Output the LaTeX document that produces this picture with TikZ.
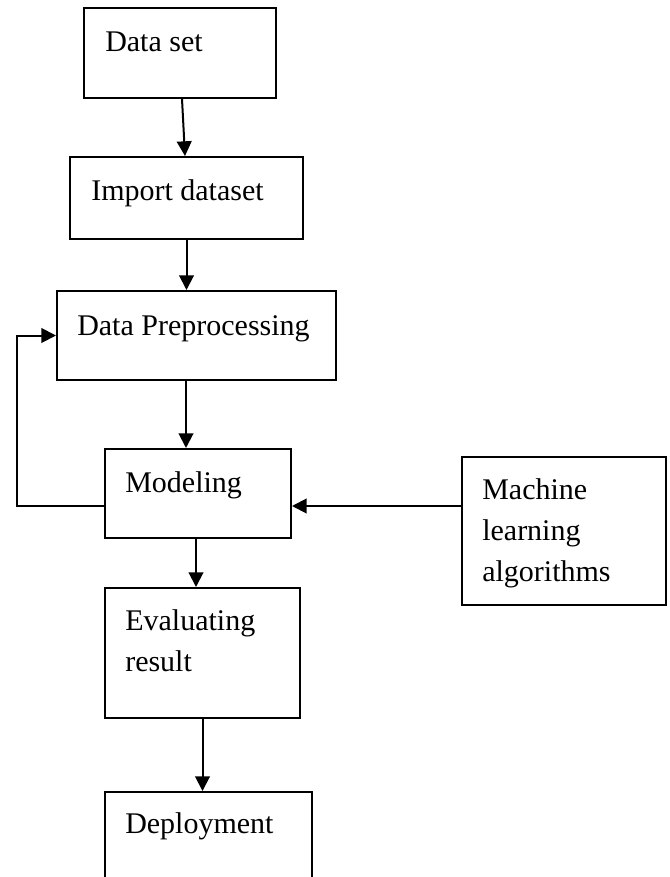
\documentclass[tikz,border=0pt]{standalone}
\usepackage{fontspec}
\setmainfont{Liberation Serif}
\usetikzlibrary{arrows.meta, calc}

\def\pxu{0.75pt}

\begin{document}
\begin{tikzpicture}[
  x=\pxu, y=-\pxu,
  box/.style={rectangle, draw, line width=1.5pt, inner sep=0pt, anchor=north west},
  txt/.style={anchor=base west, inner sep=0pt, align=left,
              font=\fontsize{22.5pt}{30.75pt}\selectfont},
  arr/.style={-{Triangle[length=11pt, width=11pt]}, line width=1.5pt},
]
\useasboundingbox (0,0) rectangle (669,877);
\clip (0,0) rectangle (669,877);

% boxes, placed by their top left corner
\node[box, minimum width=192*\pxu, minimum height=90*\pxu] (dset) at (83,7) {};
\node[box, minimum width=233*\pxu, minimum height=82*\pxu] (imp) at (69,156) {};
\node[box, minimum width=279*\pxu, minimum height=89*\pxu] (prep) at (56,290) {};
\node[box, minimum width=186*\pxu, minimum height=89*\pxu] (model) at (104,448) {};
\node[box, minimum width=204*\pxu, minimum height=148*\pxu] (mla) at (461,456) {};
\node[box, minimum width=195*\pxu, minimum height=130*\pxu] (eval) at (104,587) {};
\node[box, minimum width=207*\pxu, minimum height=120*\pxu] (deploy) at (104,791) {};

% labels sit in the upper left of each box
% (base anchor = baseline of the last line, so add 41 per extra line)
\node[txt] (dset-t) at ($(dset.north west)+(22,45)$) {Data set};
\node[txt] (imp-t) at ($(imp.north west)+(22,44)$) {Import dataset};
\node[txt] (prep-t) at ($(prep.north west)+(21,45)$) {Data Preprocessing};
\node[txt] (model-t) at ($(model.north west)+(21,44)$) {Modeling};
\node[txt] (mla-t) at ($(mla.north west)+(21,43+82)$) {Machine\\learning\\algorithms};
\node[txt] (eval-t) at ($(eval.north west)+(21,43+41)$) {Evaluating\\result};
\node[txt] (deploy-t) at ($(deploy.north west)+(21,42)$) {Deployment};

% where the connectors leave and enter
\coordinate (dsout) at ($(dset.south)+(2,0)$);
\coordinate (impin) at ($(imp.north)+(-1.5,0)$);
\coordinate (prepout) at ($(prep.south)+(-10.5,0)$);
\coordinate (modout) at ($(model.south)+(-2,0)$);
\coordinate (mlin) at ($(mla.north west)+(0,50)$);

% main flow
\draw[arr] (dsout) -- (impin);
\draw[arr] (imp.south) -- (imp.south |- prep.north);
\draw[arr] (prepout) -- (prepout |- model.north);
\draw[arr] (modout) -- (modout |- eval.north);
\draw[arr] (eval.south) -- (eval.south |- deploy.north);

% algorithms feed the model, model loops back to preprocessing
\draw[arr] (mlin) -- (model.east |- mlin);
\draw[arr] (model.west |- mlin) -- ++(-87,0) |- (prep.west);

\end{tikzpicture}
\end{document}
